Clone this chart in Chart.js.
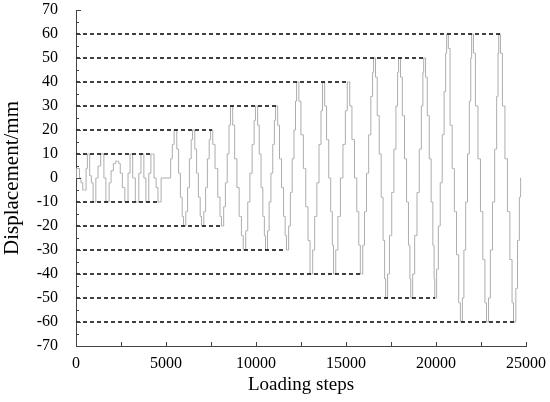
<!DOCTYPE html>
<html>
<head>
<meta charset="utf-8">
<script src="https://cdn.jsdelivr.net/npm/chart.js@4"></script>
<style>
  html, body { margin: 0; padding: 0; background: #fff; }
</style>
</head>
<body>
<canvas id="loadChart" width="550" height="402"></canvas>
<script>
// loading protocol, one row per amplitude stage
const loadSteps = [
  0, 40, 170, 220, 330, 420, 520, 600, 667, 720, 800, 900, 1000, 1056, 1150, 1300, 1444, 1500, 1600, 1722, 1780, 1900, 2000, 2150, 2250, 2333, 2420, 2500, 2650, 2778, 2830, 2950, 3056, 3100, 3200, 3389, 3430, 3550, 3667, 3720, 3820, 3944, 3990, 4100, 4222, 4270, 4400, 4500, 4611, 4680, 4780, 5220,
  5300, 5400, 5500, 5550, 5650, 5750, 5850, 5950, 6000, 6050, 6150, 6250, 6350, 6450, 6500, 6550, 6650, 6750, 6850, 6950, 7000, 7050, 7150, 7250, 7350, 7450, 7500, 7550, 7650, 7800, 7950, 8050, 8111, 8160,
  8250, 8350, 8450, 8550, 8611, 8660, 8750, 8880, 9000, 9130, 9250, 9333, 9380, 9480, 9600, 9720, 9850, 9940, 10000, 10050, 10130, 10230, 10330, 10430, 10500, 10556, 10600, 10680, 10780, 10880, 10980, 11060, 11111, 11160, 11250, 11360, 11480, 11580, 11660, 11722, 11770,
  11860, 11960, 12060, 12160, 12230, 12278, 12330, 12430, 12560, 12700, 12830, 12950, 13056, 13100, 13200, 13320, 13440, 13560, 13660, 13722, 13770, 13860, 13980, 14100, 14200, 14280, 14333, 14380, 14480, 14620, 14760, 14900, 15030, 15111, 15160, 15260, 15400, 15540, 15660, 15760, 15833, 15880,
  15980, 16080, 16200, 16320, 16440, 16510, 16556, 16600, 16680, 16790, 16900, 17010, 17110, 17180, 17222, 17270, 17350, 17480, 17600, 17720, 17830, 17900, 17944, 17990, 18070, 18190, 18310, 18420, 18520, 18580, 18611, 18660, 18750, 18880, 19010, 19130, 19240, 19300, 19333, 19380, 19460, 19570, 19680, 19780, 19870, 19920, 19944, 19990,
  20080, 20180, 20290, 20400, 20500, 20570, 20611, 20650, 20720, 20840, 20960, 21080, 21200, 21320, 21389, 21430, 21500, 21600, 21700, 21800, 21900, 21960, 22000, 22040, 22120, 22260, 22400, 22540, 22660, 22780, 22833, 22880, 22960, 23080, 23200, 23320, 23420, 23470, 23500, 23540, 23620, 23760, 23900, 24040, 24170, 24280, 24333, 24390, 24480, 24580, 24680, 24722
];
const loadDisp = [
  0, 4, 4, 0, -2, -5, -5, 4, 10, 10, 1, -2, -10, -10, 0, 5, 10, 10, 0, -10, -10, -2, 3, 6, 7, 7, 6, 2, -4, -10, -10, 2, 10, 10, 0, -10, -10, 2, 10, 10, 0, -10, -10, 2, 10, 10, 0, -4, -10, -10, 0, 0,
  8, 14, 20, 20, 12, 2, -8, -16, -20, -20, -14, -4, 8, 16, 20, 20, 12, 2, -8, -16, -20, -20, -14, -4, 8, 16, 20, 20, 14, 4, -8, -16, -20, -20,
  -12, -2, 10, 22, 30, 30, 22, 8, -4, -16, -24, -30, -30, -22, -10, 2, 14, 24, 30, 30, 22, 10, -4, -16, -24, -30, -30, -22, -10, 2, 14, 24, 30, 30, 22, 8, -4, -16, -24, -30, -30,
  -20, -6, 8, 20, 32, 40, 40, 32, 18, 4, -12, -26, -40, -40, -30, -16, -2, 14, 28, 40, 40, 30, 16, 0, -14, -28, -40, -40, -30, -16, 0, 14, 28, 40, 40, 30, 16, 0, -14, -28, -40, -40,
  -28, -14, 2, 18, 34, 44, 50, 50, 42, 26, 10, -8, -26, -42, -50, -50, -40, -24, -6, 12, 30, 44, 50, 50, 42, 26, 8, -10, -28, -42, -50, -50, -40, -24, -6, 12, 30, 44, 50, 50, 42, 26, 8, -10, -28, -42, -50, -50,
  -38, -20, -2, 18, 36, 52, 60, 60, 54, 22, 4, -14, -32, -52, -60, -60, -50, -30, -10, 10, 32, 50, 60, 60, 52, 30, 8, -14, -34, -52, -60, -60, -50, -30, -10, 12, 34, 52, 60, 60, 52, 30, 8, -14, -34, -52, -60, -60, -46, -26, -8, 0
];

// dashed amplitude guides: level and the step where each one stops
const guideLevels = [60, 50, 40, 30, 20, 10, -10, -20, -30, -40, -50, -60];
const guideEnds = [23555, 19333, 15167, 11167, 7555, 4222, 4611, 8111, 11667, 15889, 19944, 24333];

const serif = "'Liberation Serif', 'Times New Roman', serif";

const datasets = [{
  data: loadSteps.map((s, i) => ({ x: s, y: loadDisp[i] })),
  borderColor: '#adadad',
  borderWidth: 1,
  pointRadius: 0,
  stepped: 'middle',
  order: 2
}];
guideLevels.forEach((lv, i) => {
  datasets.push({
    data: [{ x: 0, y: lv }, { x: guideEnds[i], y: lv }],
    borderColor: '#000',
    borderWidth: 1.3,
    borderDash: [4, 3],
    pointRadius: 0,
    order: 1
  });
});

// small ticks pointing into the plot, like the original
const inwardTicks = {
  id: 'inwardTicks',
  afterDraw(chart) {
    const { ctx, chartArea, scales } = chart;
    ctx.save();
    ctx.strokeStyle = '#444';
    ctx.lineWidth = 1;
    ctx.beginPath();
    for (let v = -70; v <= 70; v += 5) {
      const py = Math.round(scales.y.getPixelForValue(v)) + 0.5;
      ctx.moveTo(chartArea.left, py);
      ctx.lineTo(chartArea.left + (v % 10 === 0 ? 5 : 3), py);
    }
    for (let v = 0; v <= 25000; v += 2500) {
      const px = Math.round(scales.x.getPixelForValue(v)) + 0.5;
      ctx.moveTo(px, chartArea.bottom);
      ctx.lineTo(px, chartArea.bottom - 4);
    }
    ctx.stroke();
    ctx.restore();
  }
};

new Chart(document.getElementById('loadChart').getContext('2d'), {
  type: 'line',
  data: { datasets },
  plugins: [inwardTicks],
  options: {
    responsive: false,
    animation: false,
    layout: { padding: { top: 10, right: 24, left: 0, bottom: 0 } },
    plugins: { legend: { display: false }, tooltip: { enabled: false } },
    scales: {
      x: {
        type: 'linear',
        min: 0,
        max: 25000,
        afterFit: (scale) => {
          scale.height = 56;
          scale.paddingLeft = 0;
          scale.paddingRight = 0;
        },
        grid: { display: false, drawTicks: false },
        border: { display: true, color: '#444', width: 1 },
        ticks: {
          stepSize: 5000,
          padding: 8,
          maxRotation: 0,
          color: '#000',
          font: { family: serif, size: 16 },
          callback: (v) => String(v)
        },
        title: {
          display: true,
          text: 'Loading steps',
          color: '#000',
          font: { family: serif, size: 19 },
          padding: { top: 0, bottom: 6 }
        }
      },
      y: {
        min: -70,
        max: 70,
        afterFit: (scale) => {
          scale.width = 76;
          scale.paddingTop = 0;
          scale.paddingBottom = 0;
        },
        grid: { display: false, drawTicks: false },
        border: { display: true, color: '#444', width: 1 },
        ticks: {
          stepSize: 10,
          padding: 18,
          color: '#000',
          font: { family: serif, size: 16 },
          callback: (v) => String(v)
        },
        title: {
          display: true,
          text: 'Displacement/mm',
          color: '#000',
          font: { family: serif, size: 21 },
          padding: { top: 0, bottom: 0 }
        }
      }
    }
  }
});
</script>
</body>
</html>
